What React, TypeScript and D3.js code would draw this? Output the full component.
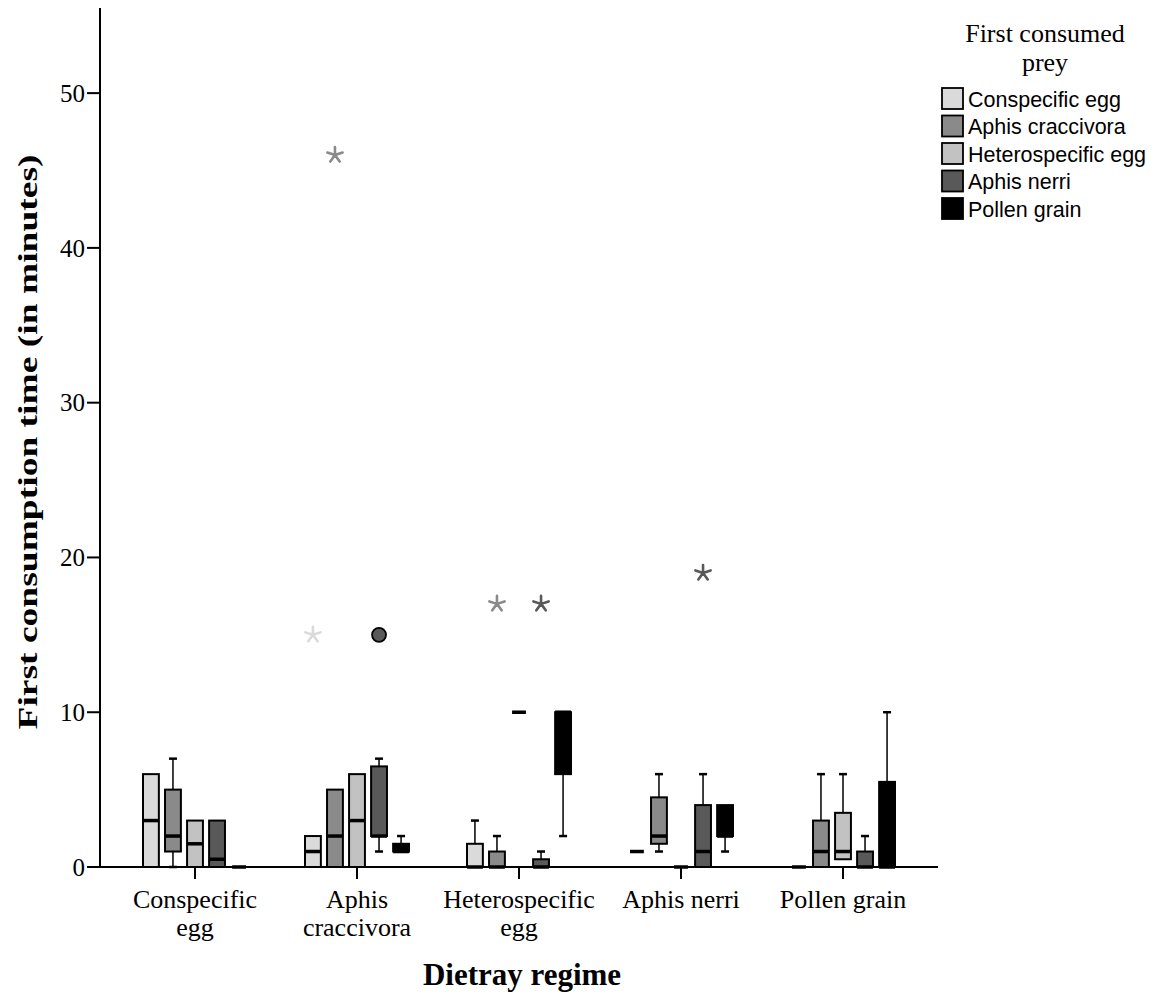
import React from "react";
import * as d3 from "d3";

const categories = ["Conspecific egg", "Aphis craccivora", "Heterospecific egg", "Aphis nerri", "Pollen grain"];
const categoryLines = [["Conspecific", "egg"], ["Aphis", "craccivora"], ["Heterospecific", "egg"], ["Aphis nerri"], ["Pollen grain"]];
const seriesNames = ["Conspecific egg", "Aphis craccivora", "Heterospecific egg", "Aphis nerri", "Pollen grain"];
const seriesColors = ["#dadada", "#8a8a8a", "#c2c2c2", "#595959", "#000000"];
const yTicks = [0, 10, 20, 30, 40, 50];

// per series, per dietary regime: [min, q1, median, q3, max]
const conspecificEgg = [[0, 0, 3, 6, 6], [0, 0, 1, 2, 2], [0, 0, 0, 1.5, 3], [1, 1, 1, 1, 1], [0, 0, 0, 0, 0]];
const aphisCraccivora = [[0, 1, 2, 5, 7], [0, 0, 2, 5, 5], [0, 0, 0, 1, 2], [1, 1.5, 2, 4.5, 6], [0, 0, 1, 3, 6]];
const heterospecificEgg = [[0, 0, 1.5, 3, 3], [0, 0, 3, 6, 6], [10, 10, 10, 10, 10], [0, 0, 0, 0, 0], [0.5, 0.5, 1, 3.5, 6]];
const aphisNerri = [[0, 0, 0.5, 3, 3], [1, 2, 2, 6.5, 7], [0, 0, 0, 0.5, 1], [0, 0, 1, 4, 6], [0, 0, 0, 1, 2]];
const pollenGrain = [[0, 0, 0, 0, 0], [1, 1, 1, 1.5, 2], [2, 6, 10, 10, 10], [1, 2, 2, 4, 4], [0, 0, 0, 5.5, 10]];
const seriesStats = [conspecificEgg, aphisCraccivora, heterospecificEgg, aphisNerri, pollenGrain];

// outliers: [regime index, series index, value, shape]
const outliers: [number, number, number, string][] = [
  [1, 0, 15, "star"],
  [1, 1, 46, "star"],
  [1, 3, 15, "circle"],
  [2, 1, 17, "star"],
  [2, 3, 17, "star"],
  [3, 3, 19, "star"],
];

function starPath(r: number) {
  let p = "";
  for (let k = 0; k < 5; k++) {
    const a = (k * 72 * Math.PI) / 180;
    p += `M0,0L${(r * Math.sin(a)).toFixed(2)},${(-r * Math.cos(a)).toFixed(2)}`;
  }
  return p;
}

export default function App() {
  const W = 1156, H = 997;
  const y = d3.scaleLinear().domain([0, 55.5]).range([867, 8]);
  const x = d3.scaleBand<string>().domain(categories).range([114, 924]);
  const inner = d3.scaleBand<number>().domain([0, 1, 2, 3, 4]).range([-52, 52]).paddingInner(0.28);
  const bw = inner.bandwidth();
  const serif = "'Liberation Serif', 'Times New Roman', serif";
  const sans = "'Liberation Sans', Arial, sans-serif";

  return (
    <svg width={W} height={H} style={{ position: "absolute", left: 0, top: 0, background: "#fff" }}>
      {/* boxes */}
      {seriesStats.map((stats, si) =>
        stats.map((s, gi) => {
          const [mn, q1, md, q3, mx] = s;
          const cx = (x(categories[gi]) as number) + x.bandwidth() / 2 + (inner(si) as number) + bw / 2;
          const x0 = cx - bw / 2;
          const degenerate = q1 === q3;
          return (
            <g key={`${si}-${gi}`}>
              {mx > q3 && (
                <g stroke="#000" strokeWidth={1.5}>
                  <line x1={cx} x2={cx} y1={y(q3)} y2={y(mx)} />
                  <line x1={cx - 4} x2={cx + 4} y1={y(mx)} y2={y(mx)} strokeWidth={2.5} />
                </g>
              )}
              {mn < q1 && (
                <g stroke="#000" strokeWidth={1.5}>
                  <line x1={cx} x2={cx} y1={y(q1)} y2={y(mn)} />
                  <line x1={cx - 4} x2={cx + 4} y1={y(mn)} y2={y(mn)} strokeWidth={2.5} />
                </g>
              )}
              {!degenerate && (
                <rect x={x0} y={y(q3)} width={bw} height={y(q1) - y(q3)} fill={seriesColors[si]} stroke="#000" strokeWidth={2} />
              )}
              <line x1={x0 + (degenerate ? 1 : 0)} x2={x0 + bw - (degenerate ? 1 : 0)} y1={y(md)} y2={y(md)} stroke="#000" strokeWidth={3.5} />
            </g>
          );
        })
      )}
      {/* outliers */}
      {outliers.map(([gi, si, v, shape], i) => {
        const cx = (x(categories[gi]) as number) + x.bandwidth() / 2 + (inner(si) as number) + bw / 2;
        return shape === "star" ? (
          <path key={i} d={starPath(8)} transform={`translate(${cx},${y(v)})`} stroke={seriesColors[si]} strokeWidth={2.6} fill="none" strokeLinecap="round" />
        ) : (
          <circle key={i} cx={cx} cy={y(v)} r={7} fill={seriesColors[si]} stroke="#000" strokeWidth={1.8} />
        );
      })}
      {/* y axis */}
      <line x1={100} x2={100} y1={8} y2={868} stroke="#000" strokeWidth={2} />
      {yTicks.map((t) => (
        <g key={t}>
          <line x1={87} x2={100} y1={y(t)} y2={y(t)} stroke="#000" strokeWidth={2} />
          <text x={85} y={y(t)} dy="0.35em" textAnchor="end" fontFamily={serif} fontSize={25}>{t}</text>
        </g>
      ))}
      {/* x axis */}
      <line x1={99} x2={938} y1={867} y2={867} stroke="#000" strokeWidth={2} />
      {categories.map((c, gi) => {
        const cx = (x(c) as number) + x.bandwidth() / 2;
        return (
          <g key={c}>
            <line x1={cx} x2={cx} y1={867} y2={879} stroke="#000" strokeWidth={2} />
            {categoryLines[gi].map((ln, li) => (
              <text key={li} x={cx} y={908 + li * 28} textAnchor="middle" fontFamily={serif} fontSize={26}>{ln}</text>
            ))}
          </g>
        );
      })}
      {/* axis titles */}
      <text transform="translate(37,442) rotate(-90)" textAnchor="middle" fontFamily={serif} fontSize={28} fontWeight="bold"
        textLength={575} lengthAdjust="spacingAndGlyphs">
        First consumption time (in minutes)
      </text>
      <text x={522} y={985} textAnchor="middle" fontFamily={serif} fontSize={31} fontWeight="bold">Dietray regime</text>
      {/* legend */}
      <text x={1045} y={42} textAnchor="middle" fontFamily={serif} fontSize={26}>First consumed</text>
      <text x={1045} y={71} textAnchor="middle" fontFamily={serif} fontSize={26}>prey</text>
      {seriesNames.map((n, i) => (
        <g key={n} transform={`translate(942,${88 + i * 27.5})`}>
          <rect x={0} y={0} width={21} height={21} fill={seriesColors[i]} stroke="#000" strokeWidth={1.8} />
          <text x={26} y={11} dy="0.36em" fontFamily={sans} fontSize={21.5}>{n}</text>
        </g>
      ))}
    </svg>
  );
}
